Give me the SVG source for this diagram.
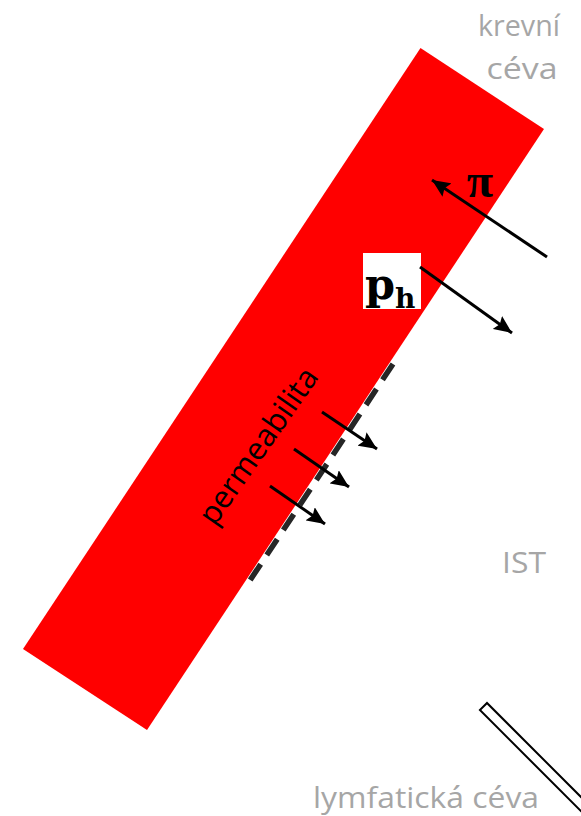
<svg xmlns="http://www.w3.org/2000/svg" width="581" height="816" viewBox="0 0 581 816">
<defs>
<style>
.lbl{font-family:"Open Sans","Liberation Sans",sans-serif;fill:#a6a6a6;font-size:30px}
.arr{stroke:#000;stroke-width:3;fill:none;marker-end:url(#ah)}
</style>
<marker id="ah" markerUnits="userSpaceOnUse" markerWidth="20" markerHeight="16" refX="18" refY="8" orient="auto">
<path d="M0,0 L18,8 L0,16 L3,8 Z" fill="#000"/>
</marker>
</defs>
<rect width="581" height="816" fill="#fff"/>
<g id="krevni-ceva">
<polygon points="420.5,48 544,129 147,730 23,649" fill="#ff0000"/>
<text x="519" y="36" text-anchor="middle" class="lbl" textLength="82" lengthAdjust="spacingAndGlyphs">krevní</text>
<text x="522" y="79" text-anchor="middle" class="lbl" textLength="71" lengthAdjust="spacingAndGlyphs">céva</text>
</g>
<g id="permeabilita">
<line x1="393" y1="364" x2="245" y2="588" stroke="#262626" stroke-width="5.5" stroke-dasharray="19,11"/>
<text transform="translate(267,452) rotate(-55)" text-anchor="middle" font-family="Open Sans, Liberation Sans, sans-serif" font-size="31" fill="#000">permeabilita</text>
</g>
<g id="ph-label">
<rect x="363" y="253" width="58" height="56" fill="#fff"/>
<text x="365" y="299" font-family="DejaVu Serif, Liberation Serif, serif" font-size="43" font-weight="bold" fill="#000">p<tspan dy="9" font-size="28">h</tspan></text>
</g>
<g id="pi-label">
<text x="480" y="197" text-anchor="middle" font-family="Liberation Serif, serif" font-size="48" font-weight="bold" fill="#000">π</text>
</g>
<g id="ist">
<text x="524" y="573" text-anchor="middle" class="lbl" textLength="44" lengthAdjust="spacingAndGlyphs">IST</text>
</g>
<g id="lymfaticka-ceva">
<rect x="0" y="0" width="200" height="10" transform="translate(487,703) rotate(45)" fill="#fff" stroke="#000" stroke-width="2"/>
<text x="426" y="808" text-anchor="middle" class="lbl" textLength="226" lengthAdjust="spacingAndGlyphs">lymfatická céva</text>
</g>
<g id="connectors">
<line class="arr" x1="547" y1="257" x2="432" y2="180"/>
<line class="arr" x1="420" y1="267" x2="512" y2="333"/>
<line class="arr" x1="322" y1="412" x2="377" y2="449"/>
<line class="arr" x1="294" y1="449" x2="349" y2="487"/>
<line class="arr" x1="270" y1="486" x2="325" y2="524"/>
</g>
</svg>
